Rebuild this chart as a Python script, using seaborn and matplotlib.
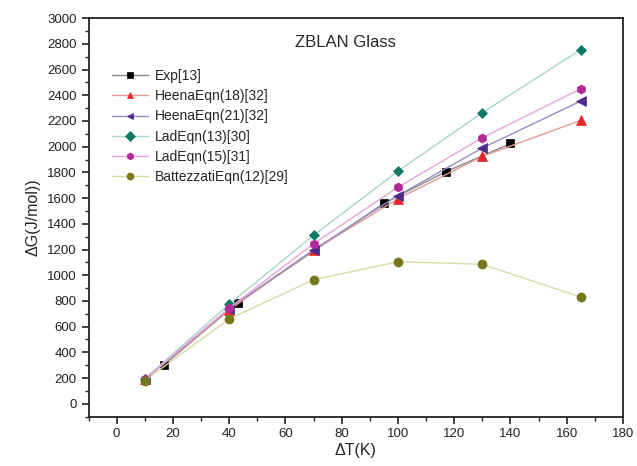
import matplotlib

matplotlib.use("Agg")
import matplotlib.pyplot as plt
import seaborn as sns
from matplotlib.ticker import MultipleLocator

# values
dT_exp = [17, 43, 95, 117, 140]
dG_exp = [305, 785, 1560, 1805, 2025]

dT_model = [10, 40, 70, 100, 130, 165]
dG_heena18 = [190, 730, 1195, 1595, 1925, 2205]
dG_heena21 = [190, 740, 1198, 1620, 1990, 2355]
dG_lad13 = [195, 775, 1310, 1810, 2265, 2755]
dG_lad15 = [192, 745, 1245, 1685, 2070, 2450]
dG_battezzati = [180, 660, 965, 1105, 1085, 830]

SERIES = [
    ("Exp[13]", dT_exp, dG_exp, "s", "#000000", "#8a8a8a"),
    ("HeenaEqn(18)[32]", dT_model, dG_heena18, "^", "#e8262b", "#e39a93"),
    ("HeenaEqn(21)[32]", dT_model, dG_heena21, "<", "#4a2a8c", "#978bc6"),
    ("LadEqn(13)[30]", dT_model, dG_lad13, "D", "#0d7a66", "#a8d5cc"),
    ("LadEqn(15)[31]", dT_model, dG_lad15, "h", "#b02a98", "#eba2da"),
    ("BattezzatiEqn(12)[29]", dT_model, dG_battezzati, "o", "#76761a", "#d9d9a4"),
]

sns.set_style("ticks")
plt.rcParams["font.family"] = ["Liberation Sans", "DejaVu Sans"]

fig = plt.figure(figsize=(6.37, 4.66), dpi=100)
ax = fig.add_axes([0.139, 0.106, 0.839, 0.855])

for label, x, y, marker, mcolor, lcolor in SERIES:
    ms = 5.5 if marker in ("s", "D") else 6.5
    sns.lineplot(
        x=x,
        y=y,
        ax=ax,
        color=lcolor,
        linewidth=1.0,
        marker=marker,
        markersize=ms,
        markerfacecolor=mcolor,
        markeredgecolor=mcolor,
        markeredgewidth=0.5,
        label=label,
    )

ax.set_xlim(-10, 180)
ax.set_ylim(-100, 3000)
ax.xaxis.set_major_locator(MultipleLocator(20))
ax.xaxis.set_minor_locator(MultipleLocator(10))
ax.yaxis.set_major_locator(MultipleLocator(200))
ax.yaxis.set_minor_locator(MultipleLocator(100))
ax.set_yticks(range(0, 3001, 200))
ax.tick_params(which="major", direction="out", length=5, width=1.2, labelsize=9.5, colors="#222222")
ax.tick_params(which="minor", direction="out", length=3, width=1.0)
for s in ax.spines.values():
    s.set_linewidth(1.3)
    s.set_color("#222222")
    s.set_visible(True)

ax.set_xlabel("ΔT(K)", fontsize=11.5, labelpad=2)
ax.set_ylabel("ΔG(J/mol))", fontsize=11.5, labelpad=5)
ax.text(0.48, 0.94, "ZBLAN Glass", transform=ax.transAxes, fontsize=12,
        ha="center", va="center")

leg = ax.legend(loc="upper left", bbox_to_anchor=(0.025, 0.897), frameon=False,
                fontsize=10, handlelength=2.6, handletextpad=0.5,
                labelspacing=0.45, borderaxespad=0.3)
for line in leg.get_lines():
    line.set_markersize(5)

fig.savefig("out.png", dpi=100)
